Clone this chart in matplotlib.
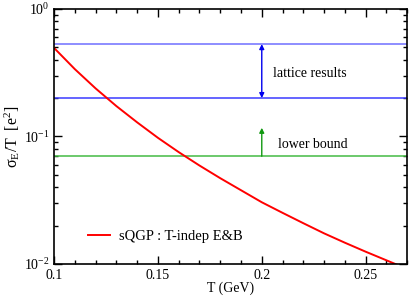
import matplotlib.pyplot as plt
from matplotlib.ticker import MultipleLocator, LogLocator, NullFormatter

plt.rcParams['font.family'] = ['Liberation Serif', 'DejaVu Serif']
plt.rcParams['mathtext.fontset'] = 'stix'

# sQGP curve
T = [0.100, 0.110, 0.120, 0.130, 0.140, 0.150, 0.160, 0.170, 0.180,
     0.190, 0.200, 0.210, 0.220, 0.230, 0.240, 0.250, 0.260, 0.265]
sigma = [0.494, 0.337, 0.238, 0.173, 0.129, 0.0976, 0.0754, 0.0592, 0.0471,
         0.0379, 0.0305, 0.0252, 0.0209, 0.0174, 0.0147, 0.0125, 0.0107, 0.0099]

lattice_hi = 0.53
lattice_lo = 0.20
lower_bound = 0.070
lower_arrow_top = 0.117
arrow_T = 0.2

fig = plt.figure(figsize=(4.1, 2.98), dpi=100)
ax = fig.add_axes([0.132, 0.114, 0.861, 0.856])

ax.axhline(lattice_hi, color='#6f6fff', lw=1.1)
ax.axhline(lattice_lo, color='#3a3aff', lw=1.1)
ax.axhline(lower_bound, color='#44bb44', lw=1.1)

ax.annotate('', xy=(arrow_T, lattice_hi), xytext=(arrow_T, lattice_lo),
            arrowprops=dict(arrowstyle='<|-|>', color='#0000ee', lw=1.0,
                            mutation_scale=7, shrinkA=0, shrinkB=0))
ax.annotate('', xy=(arrow_T, lower_arrow_top), xytext=(arrow_T, lower_bound),
            arrowprops=dict(arrowstyle='-|>', color='#119911', lw=1.0,
                            mutation_scale=7, shrinkA=0, shrinkB=0))
ax.text(0.2055, 0.31, 'lattice results', fontsize=10, va='center')
ax.text(0.208, 0.086, 'lower bound', fontsize=10, va='center')

ax.plot(T, sigma, color='red', lw=1.4, label='sQGP : T-indep E&B')

ax.set_yscale('log')
ax.set_xlim(0.1, 0.27)
ax.set_ylim(1e-2, 1)
ax.xaxis.set_major_locator(MultipleLocator(0.05))
ax.xaxis.set_minor_locator(MultipleLocator(0.01))
ax.set_xticks([0.1, 0.15, 0.2, 0.25])
ax.set_xticklabels(['0.1', '0.15', '0.2', '0.25'])
ax.yaxis.set_minor_locator(LogLocator(base=10, subs=range(2, 10)))
ax.yaxis.set_minor_formatter(NullFormatter())
ax.tick_params(which='both', direction='in', top=True, right=True,
               labelsize=10, width=1.0)
ax.tick_params(which='major', length=6)
ax.tick_params(which='minor', length=3)
for s in ax.spines.values():
    s.set_linewidth(1.2)

ax.set_xlabel('T (GeV)', fontsize=10, labelpad=0)
ax.set_ylabel(r'$\mathregular{\sigma_E/T\ \ [e^2]}$', fontsize=11.5, labelpad=1)
ax.legend(loc='lower left', bbox_to_anchor=(0.06, 0.03), frameon=False,
          fontsize=10.5, handlelength=1.5, handletextpad=0.6)

fig.savefig('out.png')
